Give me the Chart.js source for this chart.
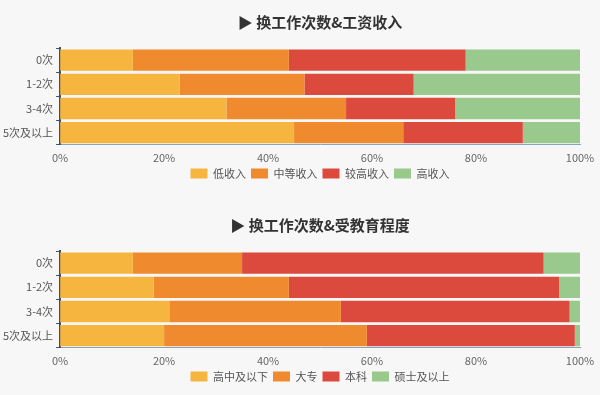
<!DOCTYPE html>
<html>
<head>
<meta charset="utf-8">
<script src="https://cdn.jsdelivr.net/npm/chart.js@4"></script>
<style>
  html, body { margin: 0; padding: 0; background: #f7f7f7; overflow: hidden; width: 600px; height: 395px; }
  .box { position: absolute; left: 0; width: 640px; height: 190px; }
  #box1 { top: 0; }
  #box2 { top: 203px; }
</style>
</head>
<body>
<div class="box" id="box1"><canvas id="chart1"></canvas></div>
<div class="box" id="box2"><canvas id="chart2"></canvas></div>
<script>
var rows = ['0次', '1-2次', '3-4次', '5次及以上'];

// 换工作次数 & 工资收入 (%)
var incomeLabels = ['低收入', '中等收入', '较高收入', '高收入'];
var incomeLow = [14, 23, 32, 45];
var incomeMid = [30, 24, 23, 21];
var incomeHigher = [34, 21, 21, 23];
var incomeHigh = [22, 32, 24, 11];

// 换工作次数 & 受教育程度 (%)
var eduLabels = ['高中及以下', '大专', '本科', '硕士及以上'];
var eduHigh = [14, 18, 21, 20];
var eduCollege = [21, 26, 33, 39];
var eduBachelor = [58, 52, 44, 40];
var eduMaster = [7, 4, 2, 1];

var colors = ['#f6b53e', '#ef8a2f', '#db4a3d', '#99c98d'];
var font = '"Noto Sans CJK SC", "Noto Sans", sans-serif';

function makeSets(labels, values)
{
  return values.map(function (v, i) {
    return {
      label: labels[i],
      data: v,
      backgroundColor: colors[i],
      borderWidth: 0,
      barPercentage: 0.88,
      categoryPercentage: 1
    };
  });
}

function drawChart(id, title, labels, values)
{
  var ctx = document.getElementById(id).getContext('2d');
  return new Chart(ctx, {
    type: 'bar',
    data: { labels: rows, datasets: makeSets(labels, values) },
    options: {
      indexAxis: 'y',
      responsive: true,
      maintainAspectRatio: false,
      animation: false,
      layout: { padding: { left: 0, right: 0, top: 0, bottom: 1 } },
      scales: {
        x: {
          stacked: true,
          min: 0,
          max: 100,
          ticks: {
            stepSize: 20,
            color: '#666',
            font: { family: font, size: 11 },
            padding: 6,
            callback: function (v) { return v + '%'; }
          },
          grid: { display: false, drawTicks: false },
          border: { color: '#86a2c4', width: 1 },
          afterFit: function (scale) { scale.height -= 7; }
        },
        y: {
          stacked: true,
          ticks: { color: '#555', font: { family: font, size: 11 }, padding: 3 },
          grid: { drawOnChartArea: false, drawTicks: true, tickLength: 4, color: '#3e4f66', offset: true },
          border: { color: '#3e4f66', width: 2 }
        },
        // empty right gutter, same width as the left labels, so the title
        // and legend centre over the plot (it falls outside the window)
        yRight: {
          type: 'category',
          position: 'right',
          ticks: { display: false },
          grid: { display: false },
          border: { display: false },
          afterFit: function (scale) { scale.width = 60; }
        }
      },
      plugins: {
        title: {
          display: true,
          text: '▶ 换工作次数&' + title,
          color: '#333',
          font: { family: font, size: 15, weight: 'bold' },
          padding: { top: 13, bottom: 17 }
        },
        legend: {
          position: 'bottom',
          labels: {
            boxWidth: 17,
            boxHeight: 10,
            color: '#555',
            font: { family: font, size: 11 },
            padding: 5
          }
        },
        tooltip: { enabled: false }
      }
    }
  });
}

drawChart('chart1', '工资收入', incomeLabels, [incomeLow, incomeMid, incomeHigher, incomeHigh]);
drawChart('chart2', '受教育程度', eduLabels, [eduHigh, eduCollege, eduBachelor, eduMaster]);
</script>
</body>
</html>
